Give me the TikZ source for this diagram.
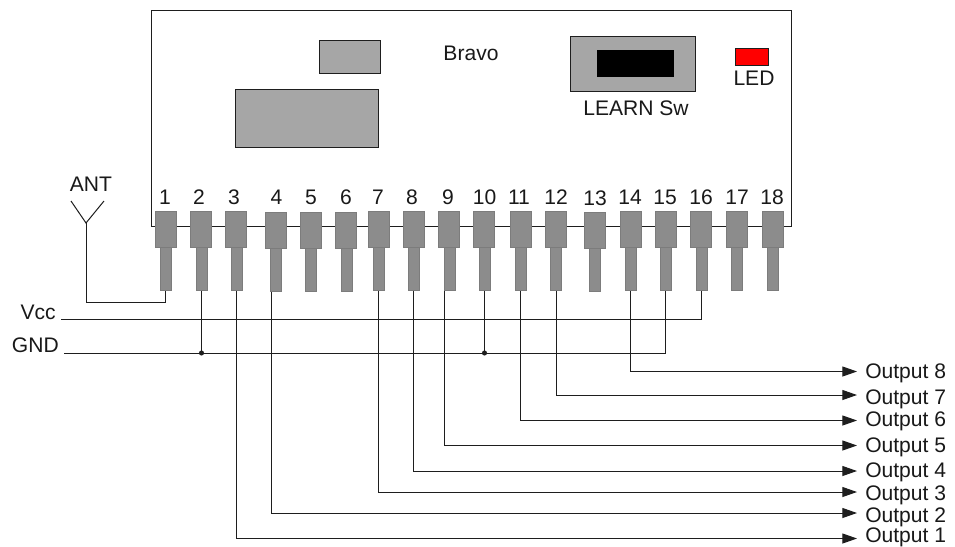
\documentclass[tikz,border=0pt]{standalone}
\usepackage{fontspec}
\setmainfont{Liberation Sans}
\usetikzlibrary{arrows.meta}
\definecolor{pingray}{HTML}{8C8C8C}
\definecolor{pinedge}{HTML}{7C7C7C}
\definecolor{partgray}{HTML}{A6A6A6}
\definecolor{wire}{HTML}{1E1E1E}
\definecolor{ledred}{HTML}{FF0000}
\tikzset{
  x=0.75pt,y=-0.75pt,
  txt/.style={inner sep=0pt,font=\fontsize{15.8}{16}\selectfont,text=black!90},
  part/.style={draw=wire,line width=0.75pt,fill=partgray,inner sep=0pt},
  head/.style={draw=pinedge,line width=0.5pt,fill=pingray,inner sep=0pt,minimum width=15.75pt,minimum height=27pt},
  lead/.style={draw=pinedge,line width=0.5pt,fill=pingray,inner sep=0pt,minimum width=8.25pt,minimum height=33pt},
  conn/.style={draw=wire,line width=0.75pt},
  outw/.style={conn,-{Triangle[length=11pt,width=7.5pt]}},
  outl/.style={txt,anchor=west,inner xsep=6pt,text depth=0pt},
  jdot/.style={circle,fill=wire,inner sep=0pt,minimum size=3.8pt},
}
\begin{document}
\begin{tikzpicture}
\useasboundingbox (0,0) rectangle (955,546);
\fill[white] (0,0) rectangle (955,546);
% module body
\node[draw=wire,line width=0.75pt,inner sep=0pt,minimum width=480pt,minimum height=161.5pt] (body) at (471,118.5) {};
\node[part,minimum width=45.75pt,minimum height=24.75pt] (small) at (350,56.5) {};
\node[part,minimum width=107.25pt,minimum height=43.5pt] (large) at (307,118) {};
\node[part,minimum width=93.75pt,minimum height=41.25pt] (sw) at (632.5,63.5) {};
\node[draw=black,fill=black,inner sep=0pt,minimum width=57pt,minimum height=19.5pt] (swblack) at (635,63) {};
\node[draw=wire,line width=0.5pt,fill=ledred,inner sep=0pt,minimum width=24.75pt,minimum height=12.75pt] (led) at (752.25,56.5) {};
\node[txt] (bravo) at (471,53) {Bravo};
\node[txt] (learn) at (636,108) {LEARN Sw};
\node[txt] (ledt) at (754,78) {LED};
% pins: number / head x / lead x / label x / label y / vertical offset
\foreach \n/\cx/\ex/\lx/\ly/\dy in {1/165.5/165.5/165/197/0,2/200.5/201.5/199/197/0,3/235.5/236.5/234/197/0,4/275.5/275.7/276.5/197/1,5/311/311/311/197/1,6/346/346.5/346/197/1,7/379/378.7/378/197/0,8/414/414.3/412/197/0,9/449/449.5/448/197/0,10/484/484.5/484.5/197/0,11/520.5/520.7/519/197/0,12/556/556.3/556/197/0,13/595/595.3/595/198/1,14/630.5/630.7/630/197/0,15/665.5/665.5/665/197/0,16/701/701.5/701/197/0,17/737/737/737/197/0,18/772.5/772.5/772/197/0}{
  \node[lead] (lead\n) at (\ex,269+\dy-0.5) {};
  \node[head] (head\n) at (\cx,229+\dy) {};
  \node[txt] (num\n) at (\lx,\ly) {\n};
}
% antenna
\coordinate (apex) at (86,223);
\coordinate (armL) at (71,201);
\coordinate (armR) at (104,201);
\node[txt] (ant) at (91,184) {ANT};
\draw[conn] (armL) -- (apex) -- (armR);
\draw[conn] (apex) |- (lead1.south |- 0,302) -- (lead1.south);
% supply rails
\node[txt,anchor=east] (vcc) at (56,312) {Vcc};
\node[txt,anchor=east] (gnd) at (59,345) {GND};
\coordinate (vccend) at (61,319.5);
\coordinate (gndend) at (64,353);
\draw[conn] (vccend) -| (lead16.south);
\draw[conn] (gndend) -| (lead15.south);
\draw[conn] (lead2.south) -- (lead2.south |- gndend) node[jdot] (j2) {};
\draw[conn] (lead10.south) -- (lead10.south |- gndend) node[jdot] (j10) {};
% outputs: pin / output / line y / wire offset from lead centre / label shift upward
\foreach \p/\o/\y/\wx/\ld in {14/8/371.5/-0.5/0.6,12/7/395/0/-1.5,11/6/420.5/0/1,9/5/445.5/-3.4/0.5,8/4/471/-0.7/0.7,7/3/492/-0.3/-0.7,4/2/513/-2.8/-1.5,3/1/538.5/0/2.2}{
  \coordinate (tip\o) at (857,\y);
  \node[outl,yshift=\ld pt] (out\o) at (tip\o) {Output \o};
  \draw[outw] ([xshift=\wx pt]lead\p.south) |- (tip\o);
}
\end{tikzpicture}
\end{document}
